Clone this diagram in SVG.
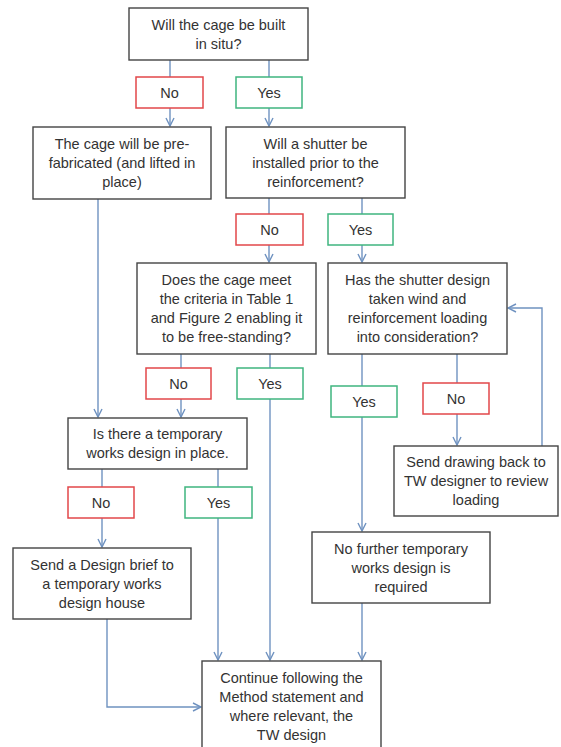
<svg xmlns="http://www.w3.org/2000/svg" width="561" height="747" viewBox="0 0 561 747">
<style>
.box{fill:#fff;stroke:#444;stroke-width:1.4}
.no{fill:#fff;stroke:#e2474a;stroke-width:1.5}
.yes{fill:#fff;stroke:#3fb57f;stroke-width:1.5}
text{font-family:"Liberation Sans",Arial,sans-serif;font-size:14.5px;fill:#333;text-anchor:middle}
.c{fill:none;stroke:#6f92c0;stroke-width:1.4}
</style>
<defs>
<marker id="arr" viewBox="0 0 10 10" refX="9" refY="5" markerWidth="10" markerHeight="10" markerUnits="userSpaceOnUse" orient="auto">
<polyline points="1,1 9,5 1,9" fill="none" stroke="#6f92c0" stroke-width="1.4"/>
</marker>
</defs>
<rect width="561" height="747" fill="#fff"/>
<g id="connectors">
<line class="c" x1="170" y1="60" x2="170" y2="77"/>
<line class="c" x1="170" y1="108" x2="170" y2="126" marker-end="url(#arr)"/>
<line class="c" x1="269" y1="60" x2="269" y2="77"/>
<line class="c" x1="269" y1="108" x2="269" y2="126" marker-end="url(#arr)"/>
<line class="c" x1="98" y1="199" x2="98" y2="417" marker-end="url(#arr)"/>
<line class="c" x1="269" y1="198" x2="269" y2="214"/>
<line class="c" x1="269" y1="245" x2="269" y2="262" marker-end="url(#arr)"/>
<line class="c" x1="362" y1="198" x2="362" y2="214"/>
<line class="c" x1="362" y1="245" x2="362" y2="262" marker-end="url(#arr)"/>
<line class="c" x1="181" y1="354" x2="181" y2="368"/>
<line class="c" x1="181" y1="399" x2="181" y2="417" marker-end="url(#arr)"/>
<line class="c" x1="270" y1="354" x2="270" y2="368"/>
<line class="c" x1="270" y1="399" x2="270" y2="660" marker-end="url(#arr)"/>
<line class="c" x1="362" y1="354" x2="362" y2="386"/>
<line class="c" x1="362" y1="417" x2="362" y2="531" marker-end="url(#arr)"/>
<line class="c" x1="457" y1="354" x2="457" y2="383"/>
<line class="c" x1="457" y1="414" x2="457" y2="445" marker-end="url(#arr)"/>
<polyline class="c" points="542,446 542,308 508,308" marker-end="url(#arr)"/>
<line class="c" x1="102" y1="469" x2="102" y2="487"/>
<line class="c" x1="102" y1="518" x2="102" y2="547" marker-end="url(#arr)"/>
<line class="c" x1="218" y1="469" x2="218" y2="487"/>
<line class="c" x1="218" y1="518" x2="218" y2="660" marker-end="url(#arr)"/>
<polyline class="c" points="107,619 107,707 201,707" marker-end="url(#arr)"/>
<line class="c" x1="362" y1="603" x2="362" y2="660" marker-end="url(#arr)"/>
</g>
<g id="q1"><rect class="box" x="129" y="8" width="179" height="52"/><text x="218.5" y="29.5">Will the cage be built</text><text x="218.5" y="48.5">in situ?</text></g>
<g id="no1"><rect class="no" x="136" y="77" width="67" height="31"/><text x="169.5" y="97.5">No</text></g>
<g id="yes1"><rect class="yes" x="236" y="77" width="66" height="31"/><text x="269" y="97.5">Yes</text></g>
<g id="prefab"><rect class="box" x="33" y="127" width="178" height="72"/><text x="122" y="149">The cage will be pre-</text><text x="122" y="168">fabricated (and lifted in</text><text x="122" y="187">place)</text></g>
<g id="q2"><rect class="box" x="226" y="127" width="179" height="71"/><text x="315.5" y="148.5">Will a shutter be</text><text x="315.5" y="167.5">installed prior to the</text><text x="315.5" y="186.5">reinforcement?</text></g>
<g id="no2"><rect class="no" x="236" y="214" width="67" height="31"/><text x="269.5" y="234.5">No</text></g>
<g id="yes2"><rect class="yes" x="328" y="214" width="65" height="31"/><text x="360.5" y="234.5">Yes</text></g>
<g id="q3"><rect class="box" x="137" y="263" width="179" height="91"/><text x="226.5" y="285">Does the cage meet</text><text x="226.5" y="304">the criteria in Table 1</text><text x="226.5" y="323">and Figure 2 enabling it</text><text x="226.5" y="342">to be free-standing?</text></g>
<g id="q4"><rect class="box" x="328" y="263" width="179" height="91"/><text x="417.5" y="285">Has the shutter design</text><text x="417.5" y="304">taken wind and</text><text x="417.5" y="323">reinforcement loading</text><text x="417.5" y="342">into consideration?</text></g>
<g id="no3"><rect class="no" x="146" y="368" width="65" height="31"/><text x="178.5" y="388.5">No</text></g>
<g id="yes3"><rect class="yes" x="237" y="368" width="66" height="31"/><text x="270" y="388.5">Yes</text></g>
<g id="yes4"><rect class="yes" x="331" y="386" width="66" height="31"/><text x="364" y="406.5">Yes</text></g>
<g id="no4"><rect class="no" x="423" y="383" width="66" height="31"/><text x="456" y="403.5">No</text></g>
<g id="q5"><rect class="box" x="68" y="418" width="179" height="51"/><text x="157.5" y="439">Is there a temporary</text><text x="157.5" y="458">works design in place.</text></g>
<g id="sendback"><rect class="box" x="394" y="446" width="164" height="70"/><text x="476" y="467">Send drawing back to</text><text x="476" y="486">TW designer to review</text><text x="476" y="505">loading</text></g>
<g id="no5"><rect class="no" x="68" y="487" width="66" height="31"/><text x="101" y="507.5">No</text></g>
<g id="yes5"><rect class="yes" x="185" y="487" width="67" height="31"/><text x="218.5" y="507.5">Yes</text></g>
<g id="nofurther"><rect class="box" x="312" y="532" width="178" height="71"/><text x="401" y="553.5">No further temporary</text><text x="401" y="572.5">works design is</text><text x="401" y="591.5">required</text></g>
<g id="brief"><rect class="box" x="13" y="548" width="178" height="71"/><text x="102" y="569.5">Send a Design brief to</text><text x="102" y="588.5">a temporary works</text><text x="102" y="607.5">design house</text></g>
<g id="final"><rect class="box" x="202" y="661" width="179" height="100"/><text x="291.5" y="682.5">Continue following the</text><text x="291.5" y="701.5">Method statement and</text><text x="291.5" y="720.5">where relevant, the</text><text x="291.5" y="739.5">TW design</text></g>
</svg>
